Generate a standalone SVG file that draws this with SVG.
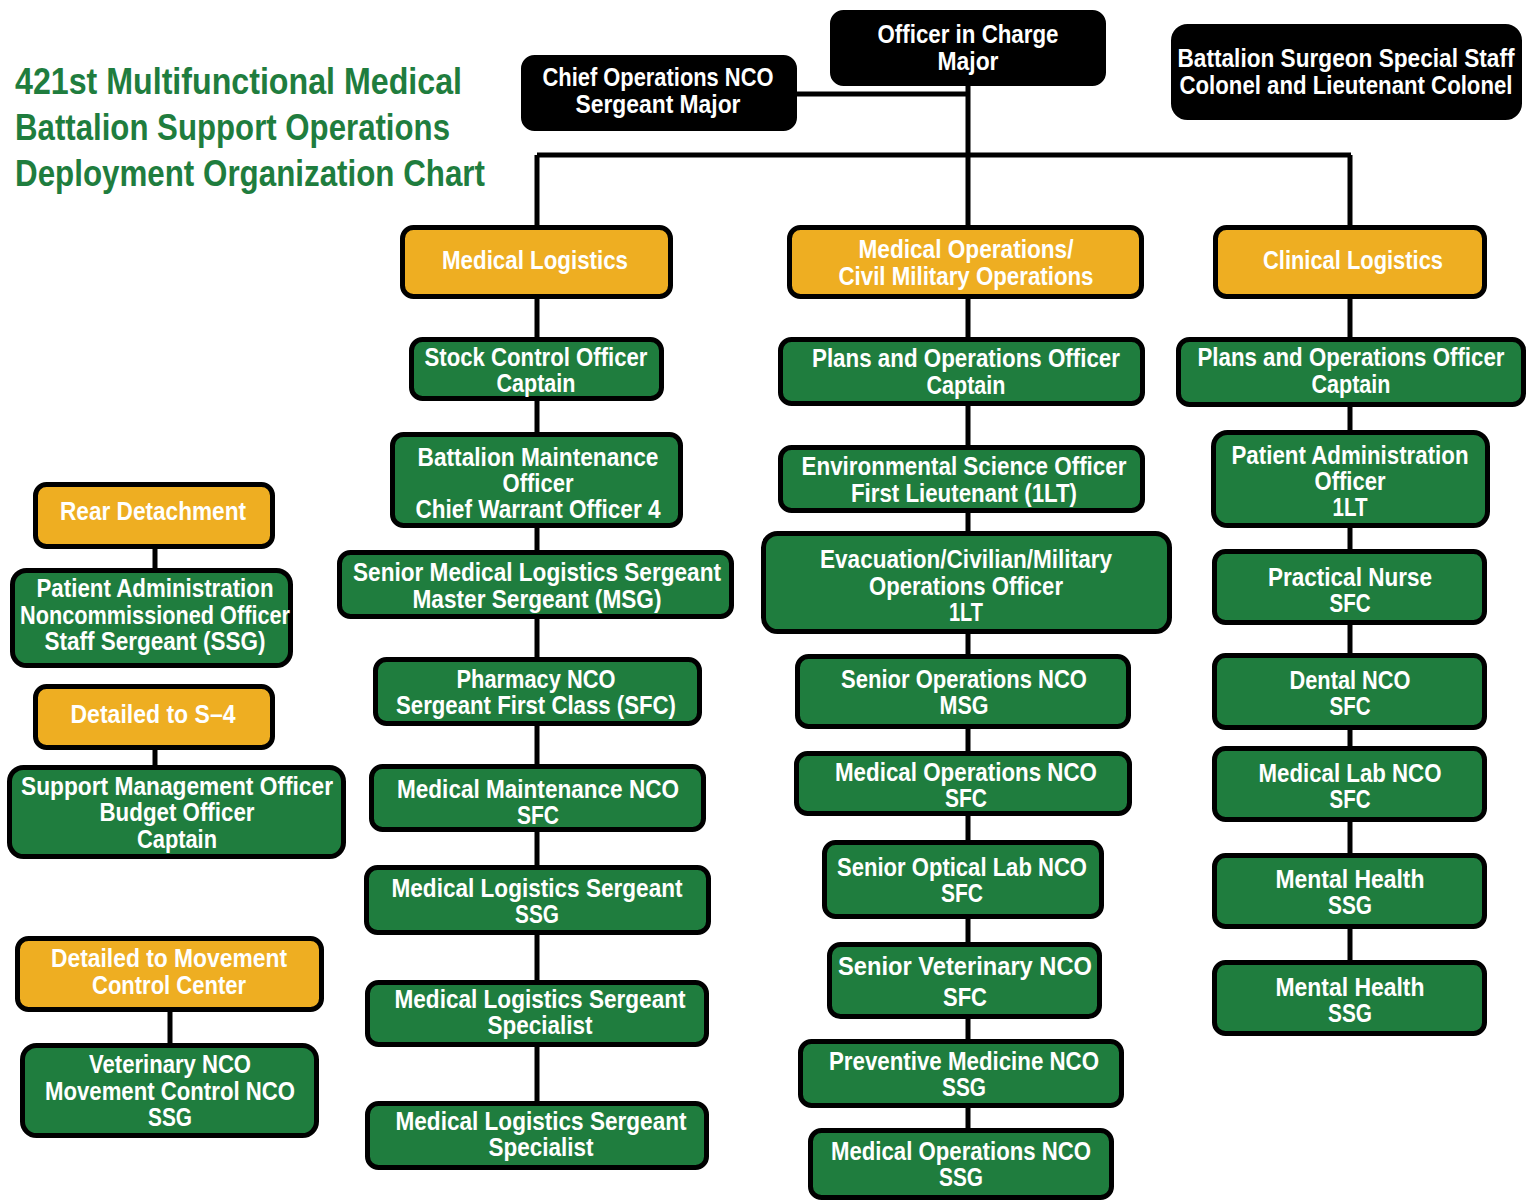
<svg xmlns="http://www.w3.org/2000/svg" width="1536" height="1201" viewBox="0 0 1536 1201">
<style>
.b{stroke:#000;stroke-width:5}
.k{fill:#000}
.o{fill:#eeae22}
.g{fill:#1f7d3e}
.t{font-family:"Liberation Sans",Arial,sans-serif;font-weight:bold;font-size:26px;fill:#fff;text-anchor:middle}
.title{font-family:"Liberation Sans",Arial,sans-serif;font-weight:bold;font-size:37px;fill:#1f7d3e}
.c{stroke:#000;stroke-width:5;fill:none}
</style>
<rect width="1536" height="1201" fill="#fff"/>
<g id="title">
<text class="title" x="15" y="94" textLength="447" lengthAdjust="spacingAndGlyphs">421st Multifunctional Medical</text>
<text class="title" x="15" y="140" textLength="435" lengthAdjust="spacingAndGlyphs">Battalion Support Operations</text>
<text class="title" x="15" y="186" textLength="470" lengthAdjust="spacingAndGlyphs">Deployment Organization Chart</text>
</g>
<g id="connectors">
<path class="c" d="M797 94H968M968 86V1130M537 155H1351M537 155V1103M1350 155V962M155 549V570M155 750V767M170 1012V1045"/>
</g>
<g id="officer"><rect class="b k" x="832.5" y="12.5" width="271" height="71" rx="11"/>
<text class="t" x="968" y="43" textLength="181" lengthAdjust="spacingAndGlyphs">Officer in Charge</text>
<text class="t" x="968" y="70" textLength="61" lengthAdjust="spacingAndGlyphs">Major</text></g>
<g id="chief"><rect class="b k" x="523.5" y="57.5" width="271" height="71" rx="11"/>
<text class="t" x="658" y="86" textLength="231" lengthAdjust="spacingAndGlyphs">Chief Operations NCO</text>
<text class="t" x="658" y="113" textLength="165" lengthAdjust="spacingAndGlyphs">Sergeant Major</text></g>
<g id="surgeon"><rect class="b k" x="1173.5" y="26.5" width="346" height="91" rx="14"/>
<text class="t" x="1346" y="67" textLength="337" lengthAdjust="spacingAndGlyphs">Battalion Surgeon Special Staff</text>
<text class="t" x="1346" y="94" textLength="333" lengthAdjust="spacingAndGlyphs">Colonel and Lieutenant Colonel</text></g>
<g id="medlog"><rect class="b o" x="402.5" y="227.5" width="268" height="69" rx="11"/>
<text class="t" x="535" y="269" textLength="186" lengthAdjust="spacingAndGlyphs">Medical Logistics</text></g>
<g id="medops"><rect class="b o" x="789.5" y="227.5" width="352" height="69" rx="11"/>
<text class="t" x="966" y="258" textLength="215" lengthAdjust="spacingAndGlyphs">Medical Operations/</text>
<text class="t" x="966" y="285" textLength="255" lengthAdjust="spacingAndGlyphs">Civil Military Operations</text></g>
<g id="clinlog"><rect class="b o" x="1215.5" y="227.5" width="269" height="69" rx="11"/>
<text class="t" x="1353" y="269" textLength="180" lengthAdjust="spacingAndGlyphs">Clinical Logistics</text></g>
<g id="stock"><rect class="b g" x="411.5" y="339.5" width="250" height="59" rx="11"/>
<text class="t" x="536" y="366" textLength="223" lengthAdjust="spacingAndGlyphs">Stock Control Officer</text>
<text class="t" x="536" y="392" textLength="79" lengthAdjust="spacingAndGlyphs">Captain</text></g>
<g id="battmaint"><rect class="b g" x="392.5" y="434.5" width="288" height="91" rx="11"/>
<text class="t" x="538" y="466" textLength="241" lengthAdjust="spacingAndGlyphs">Battalion Maintenance</text>
<text class="t" x="538" y="492" textLength="71" lengthAdjust="spacingAndGlyphs">Officer</text>
<text class="t" x="538" y="518" textLength="245" lengthAdjust="spacingAndGlyphs">Chief Warrant Officer 4</text></g>
<g id="senmedlog"><rect class="b g" x="339.5" y="552.5" width="392" height="64" rx="11"/>
<text class="t" x="537" y="581" textLength="368" lengthAdjust="spacingAndGlyphs">Senior Medical Logistics Sergeant</text>
<text class="t" x="537" y="608" textLength="249" lengthAdjust="spacingAndGlyphs">Master Sergeant (MSG)</text></g>
<g id="pharmacy"><rect class="b g" x="375.5" y="659.5" width="324" height="64" rx="11"/>
<text class="t" x="536" y="688" textLength="159" lengthAdjust="spacingAndGlyphs">Pharmacy NCO</text>
<text class="t" x="536" y="714" textLength="280" lengthAdjust="spacingAndGlyphs">Sergeant First Class (SFC)</text></g>
<g id="medmaint"><rect class="b g" x="371.5" y="766.5" width="332" height="63" rx="11"/>
<text class="t" x="538" y="798" textLength="282" lengthAdjust="spacingAndGlyphs">Medical Maintenance NCO</text>
<text class="t" x="538" y="824" textLength="42" lengthAdjust="spacingAndGlyphs">SFC</text></g>
<g id="mlsssg"><rect class="b g" x="366.5" y="867.5" width="342" height="65" rx="11"/>
<text class="t" x="537" y="897" textLength="291" lengthAdjust="spacingAndGlyphs">Medical Logistics Sergeant</text>
<text class="t" x="537" y="923" textLength="44" lengthAdjust="spacingAndGlyphs">SSG</text></g>
<g id="mlsspec1"><rect class="b g" x="367.5" y="982.5" width="339" height="62" rx="11"/>
<text class="t" x="540" y="1008" textLength="291" lengthAdjust="spacingAndGlyphs">Medical Logistics Sergeant</text>
<text class="t" x="540" y="1034" textLength="105" lengthAdjust="spacingAndGlyphs">Specialist</text></g>
<g id="mlsspec2"><rect class="b g" x="367.5" y="1103.5" width="339" height="64" rx="11"/>
<text class="t" x="541" y="1130" textLength="291" lengthAdjust="spacingAndGlyphs">Medical Logistics Sergeant</text>
<text class="t" x="541" y="1156" textLength="105" lengthAdjust="spacingAndGlyphs">Specialist</text></g>
<g id="plansmid"><rect class="b g" x="780.5" y="339.5" width="362" height="64" rx="11"/>
<text class="t" x="966" y="367" textLength="308" lengthAdjust="spacingAndGlyphs">Plans and Operations Officer</text>
<text class="t" x="966" y="394" textLength="79" lengthAdjust="spacingAndGlyphs">Captain</text></g>
<g id="env"><rect class="b g" x="780.5" y="447.5" width="362" height="63" rx="11"/>
<text class="t" x="964" y="475" textLength="325" lengthAdjust="spacingAndGlyphs">Environmental Science Officer</text>
<text class="t" x="964" y="502" textLength="226" lengthAdjust="spacingAndGlyphs">First Lieutenant (1LT)</text></g>
<g id="evac"><rect class="b g" x="763.5" y="533.5" width="406" height="98" rx="14"/>
<text class="t" x="966" y="568" textLength="292" lengthAdjust="spacingAndGlyphs">Evacuation/Civilian/Military</text>
<text class="t" x="966" y="595" textLength="194" lengthAdjust="spacingAndGlyphs">Operations Officer</text>
<text class="t" x="966" y="621" textLength="34" lengthAdjust="spacingAndGlyphs">1LT</text></g>
<g id="senops"><rect class="b g" x="797.5" y="656.5" width="331" height="70" rx="11"/>
<text class="t" x="964" y="688" textLength="246" lengthAdjust="spacingAndGlyphs">Senior Operations NCO</text>
<text class="t" x="964" y="714" textLength="49" lengthAdjust="spacingAndGlyphs">MSG</text></g>
<g id="medopssfc"><rect class="b g" x="796.5" y="753.5" width="333" height="60" rx="11"/>
<text class="t" x="966" y="781" textLength="262" lengthAdjust="spacingAndGlyphs">Medical Operations NCO</text>
<text class="t" x="966" y="807" textLength="42" lengthAdjust="spacingAndGlyphs">SFC</text></g>
<g id="optical"><rect class="b g" x="824.5" y="842.5" width="277" height="74" rx="11"/>
<text class="t" x="962" y="876" textLength="250" lengthAdjust="spacingAndGlyphs">Senior Optical Lab NCO</text>
<text class="t" x="962" y="902" textLength="42" lengthAdjust="spacingAndGlyphs">SFC</text></g>
<g id="vet"><rect class="b g" x="829.5" y="944.5" width="270" height="72" rx="11"/>
<text class="t" x="965" y="975" textLength="254" lengthAdjust="spacingAndGlyphs">Senior Veterinary NCO</text>
<text class="t" x="965" y="1006" textLength="44" lengthAdjust="spacingAndGlyphs">SFC</text></g>
<g id="prev"><rect class="b g" x="800.5" y="1041.5" width="321" height="64" rx="11"/>
<text class="t" x="964" y="1070" textLength="270" lengthAdjust="spacingAndGlyphs">Preventive Medicine NCO</text>
<text class="t" x="964" y="1096" textLength="44" lengthAdjust="spacingAndGlyphs">SSG</text></g>
<g id="medopsssg"><rect class="b g" x="810.5" y="1130.5" width="301" height="67" rx="11"/>
<text class="t" x="961" y="1160" textLength="260" lengthAdjust="spacingAndGlyphs">Medical Operations NCO</text>
<text class="t" x="961" y="1186" textLength="44" lengthAdjust="spacingAndGlyphs">SSG</text></g>
<g id="plansright"><rect class="b g" x="1178.5" y="339.5" width="345" height="65" rx="11"/>
<text class="t" x="1351" y="366" textLength="307" lengthAdjust="spacingAndGlyphs">Plans and Operations Officer</text>
<text class="t" x="1351" y="393" textLength="79" lengthAdjust="spacingAndGlyphs">Captain</text></g>
<g id="patadmin"><rect class="b g" x="1213.5" y="432.5" width="274" height="93" rx="14"/>
<text class="t" x="1350" y="464" textLength="237" lengthAdjust="spacingAndGlyphs">Patient Administration</text>
<text class="t" x="1350" y="490" textLength="71" lengthAdjust="spacingAndGlyphs">Officer</text>
<text class="t" x="1350" y="516" textLength="35" lengthAdjust="spacingAndGlyphs">1LT</text></g>
<g id="nurse"><rect class="b g" x="1214.5" y="551.5" width="270" height="71" rx="11"/>
<text class="t" x="1350" y="586" textLength="164" lengthAdjust="spacingAndGlyphs">Practical Nurse</text>
<text class="t" x="1350" y="612" textLength="41" lengthAdjust="spacingAndGlyphs">SFC</text></g>
<g id="dental"><rect class="b g" x="1214.5" y="655.5" width="270" height="72" rx="11"/>
<text class="t" x="1350" y="689" textLength="121" lengthAdjust="spacingAndGlyphs">Dental NCO</text>
<text class="t" x="1350" y="715" textLength="41" lengthAdjust="spacingAndGlyphs">SFC</text></g>
<g id="lab"><rect class="b g" x="1214.5" y="748.5" width="270" height="71" rx="11"/>
<text class="t" x="1350" y="782" textLength="183" lengthAdjust="spacingAndGlyphs">Medical Lab NCO</text>
<text class="t" x="1350" y="808" textLength="41" lengthAdjust="spacingAndGlyphs">SFC</text></g>
<g id="mh1"><rect class="b g" x="1214.5" y="855.5" width="270" height="71" rx="11"/>
<text class="t" x="1350" y="888" textLength="149" lengthAdjust="spacingAndGlyphs">Mental Health</text>
<text class="t" x="1350" y="914" textLength="44" lengthAdjust="spacingAndGlyphs">SSG</text></g>
<g id="mh2"><rect class="b g" x="1214.5" y="962.5" width="270" height="71" rx="11"/>
<text class="t" x="1350" y="996" textLength="149" lengthAdjust="spacingAndGlyphs">Mental Health</text>
<text class="t" x="1350" y="1022" textLength="44" lengthAdjust="spacingAndGlyphs">SSG</text></g>
<g id="rear"><rect class="b o" x="35.5" y="484.5" width="237" height="62" rx="11"/>
<text class="t" x="153" y="520" textLength="186" lengthAdjust="spacingAndGlyphs">Rear Detachment</text></g>
<g id="patadminnco"><rect class="b g" x="12.5" y="570.5" width="278" height="95" rx="14"/>
<text class="t" x="155" y="597" textLength="237" lengthAdjust="spacingAndGlyphs">Patient Administration</text>
<text class="t" x="155" y="624" textLength="270" lengthAdjust="spacingAndGlyphs">Noncommissioned Officer</text>
<text class="t" x="155" y="650" textLength="221" lengthAdjust="spacingAndGlyphs">Staff Sergeant (SSG)</text></g>
<g id="s4"><rect class="b o" x="35.5" y="686.5" width="237" height="61" rx="11"/>
<text class="t" x="153" y="723" textLength="165" lengthAdjust="spacingAndGlyphs">Detailed to S–4</text></g>
<g id="support"><rect class="b g" x="9.5" y="767.5" width="334" height="89" rx="14"/>
<text class="t" x="177" y="795" textLength="312" lengthAdjust="spacingAndGlyphs">Support Management Officer</text>
<text class="t" x="177" y="821" textLength="155" lengthAdjust="spacingAndGlyphs">Budget Officer</text>
<text class="t" x="177" y="848" textLength="80" lengthAdjust="spacingAndGlyphs">Captain</text></g>
<g id="movement"><rect class="b o" x="17.5" y="938.5" width="304" height="71" rx="11"/>
<text class="t" x="169" y="967" textLength="236" lengthAdjust="spacingAndGlyphs">Detailed to Movement</text>
<text class="t" x="169" y="994" textLength="154" lengthAdjust="spacingAndGlyphs">Control Center</text></g>
<g id="vetnco"><rect class="b g" x="22.5" y="1045.5" width="294" height="90" rx="14"/>
<text class="t" x="170" y="1073" textLength="162" lengthAdjust="spacingAndGlyphs">Veterinary NCO</text>
<text class="t" x="170" y="1100" textLength="250" lengthAdjust="spacingAndGlyphs">Movement Control NCO</text>
<text class="t" x="170" y="1126" textLength="44" lengthAdjust="spacingAndGlyphs">SSG</text></g>
</svg>
